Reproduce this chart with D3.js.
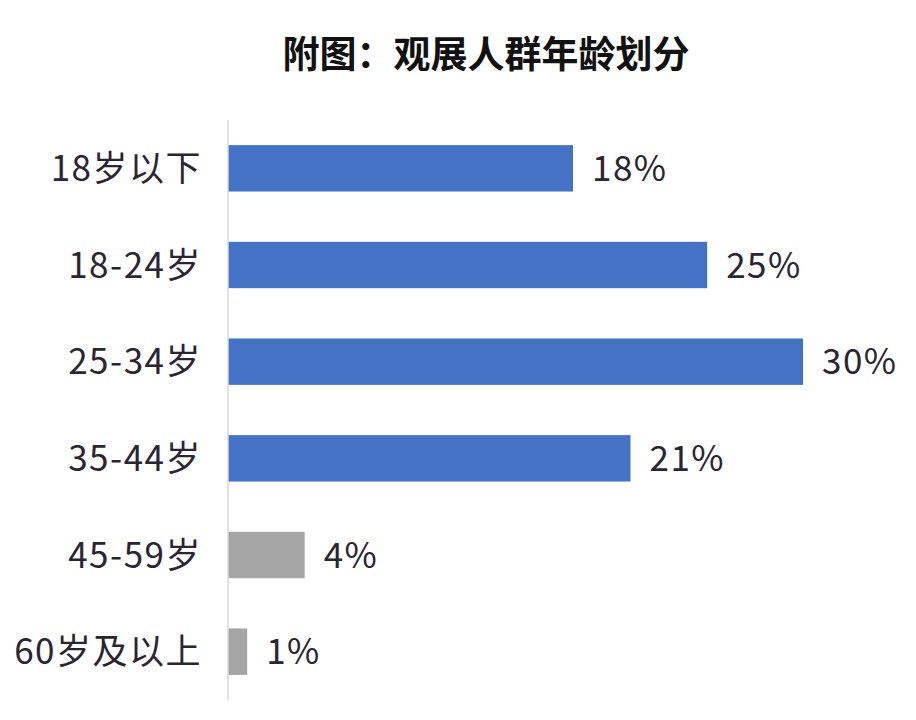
<!DOCTYPE html>
<meta charset="utf-8">
<script src="https://d3js.org/d3.v7.min.js"></script>
<style>
    body { margin: 0; background: #fff; }
    text { font-family: "Noto Sans CJK SC", "Noto Sans", sans-serif; }
</style>
<div id="chart"></div>
<script>
    // data
    const categories = ["18岁以下", "18-24岁", "25-34岁", "35-44岁", "45-59岁", "60岁及以上"];
    const values = [18, 25, 30, 21, 4, 1];
    const barColors = ["#4472c4", "#4472c4", "#4472c4", "#4472c4", "#a5a5a5", "#a5a5a5"];
    const title = "附图：观展人群年龄划分";

    const W = 916, H = 720;
    const margin = {top: 120, right: 113, bottom: 20, left: 228};
    const width = W - margin.left - margin.right,
          height = H - margin.top - margin.bottom;

    const svg = d3.select("#chart").append("svg")
        .attr("width", W).attr("height", H);

    svg.append("text")
        .attr("x", 486).attr("y", 68)
        .attr("text-anchor", "middle")
        .style("font-size", "37px")
        .style("font-weight", "bold")
        .style("fill", "#111")
        .text(title);

    const g = svg.append("g")
        .attr("transform", `translate(${margin.left},${margin.top})`);

    const x = d3.scaleLinear().domain([0, 30]).range([0, 575]);
    const y = d3.scaleBand().domain(categories).range([0, height]).paddingInner(0.52).paddingOuter(0.26);

    g.selectAll("rect.bar")
        .data(categories)
        .join("rect")
        .attr("class", "bar")
        .attr("x", 0)
        .attr("y", d => y(d))
        .attr("width", (d, i) => x(values[i]))
        .attr("height", y.bandwidth())
        .style("fill", (d, i) => barColors[i]);

    // axis line
    g.append("line")
        .attr("x1", 0).attr("x2", 0)
        .attr("y1", 0).attr("y2", height)
        .style("stroke", "#d9d9d9").style("stroke-width", 1.5);

    // category labels
    g.selectAll("text.cat")
        .data(categories)
        .join("text")
        .attr("class", "cat")
        .attr("x", -26)
        .attr("y", d => y(d) + y.bandwidth() / 2)
        .attr("dy", "0.36em")
        .attr("text-anchor", "end")
        .style("font-size", "35px")
        .style("letter-spacing", "1.5px")
        .style("fill", "#2a2433")
        .text(d => d);

    // value labels
    g.selectAll("text.val")
        .data(categories)
        .join("text")
        .attr("class", "val")
        .attr("x", (d, i) => x(values[i]) + 19)
        .attr("y", d => y(d) + y.bandwidth() / 2)
        .attr("dy", "0.36em")
        .style("font-size", "35px")
        .style("letter-spacing", "1.5px")
        .style("fill", "#2a2433")
        .text((d, i) => values[i] + "%");
</script>
